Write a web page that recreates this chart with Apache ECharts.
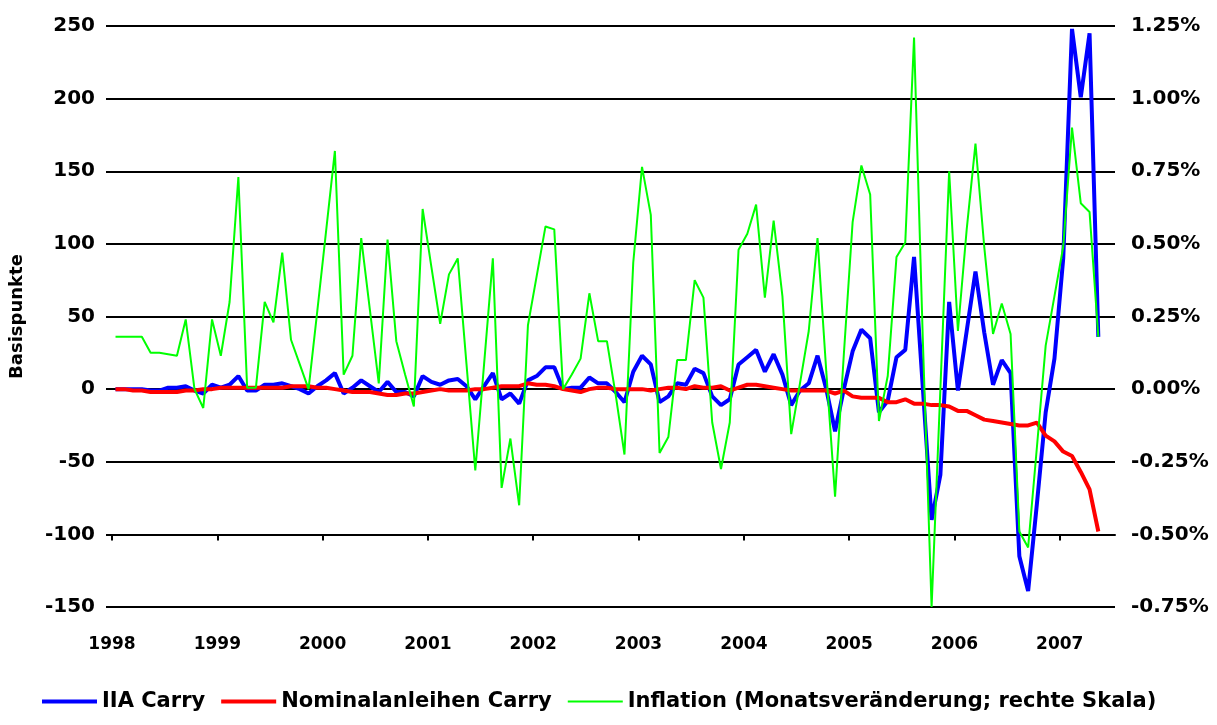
<!DOCTYPE html>
<html>
<head>
<meta charset="utf-8">
<title>IIA Carry</title>
<script src="https://cdn.jsdelivr.net/npm/echarts@6/dist/echarts.min.js"></script>
<style>
  html, body { margin: 0; padding: 0; background: #fff; }
  #chart { width: 1217px; height: 725px; }
</style>
</head>
<body>
<div id="chart"></div>
<script>
// monthly values, Jan 1998 .. May 2007
var firstYear = 1998;
var yearLabels = ['1998', '1999', '2000', '2001', '2002', '2003', '2004', '2005', '2006', '2007'];

// IIA Carry (Basispunkte)
var iiaCarry = [
    0, 0, 0, 0, -1, -1, 1, 1, 2, -1, -3, 3, 1, 3, 9, -1, -1, 3, 3,
    4, 2, 0, -3, 2, 6, 11, -3, 1, 6, 2, -2, 5, -2, -2, -5, 9, 5, 3, 6,
    7, 2, -7, 2, 11, -7, -3, -10, 6, 9, 15, 15, 0, 1, 1, 8, 4, 4, -2,
    -9, 12, 23, 17, -9, -5, 4, 3, 14, 11, -5, -11, -7, 17, 22, 27, 12, 24, 10,
    -11, -1, 4, 23, 0, -29, 0, 26, 41, 35, -16, -8, 22, 27, 91, 1, -90, -59, 60, -1,
    40, 81, 39, 3, 20, 11, -115, -139, -79, -16, 21, 90, 248, 201, 245, 36
];

// Nominalanleihen Carry (Basispunkte)
var nominalCarry = [
    0, 0, -1, -1, -2, -2, -2, -2, -1, -1, 0, 0, 1, 1, 1, 1, 1, 1, 1,
    1, 2, 2, 2, 1, 1, 0, -1, -2, -2, -2, -3, -4, -4, -3, -3, -2, -1,
    0, -1, -1, -1, 0, 0, 1, 2, 2, 2, 4, 3, 3, 2, 0, -1, -2, 0, 1, 1, 0,
    0, 0, 0, -1, 0, 1, 1, 0, 2, 1, 1, 2, -1, 1, 3, 3, 2, 1, 0,
    -1, -1, -1, -1, -1, -3, -1, -5, -6, -6, -6, -9, -9, -7, -10, -10, -11, -11, -12, -15,
    -15, -18, -21, -22, -23, -24, -25, -25, -23, -32, -36, -43, -46, -57, -69, -98
];

// Inflation, Monatsveraenderung in % (rechte Skala)
var inflation = [
    0.18, 0.18, 0.18, 0.18, 0.125, 0.125, 0.12, 0.115, 0.24, 0.0, -0.065, 0.24, 0.115, 0.3, 0.73, 0.005, 0.005, 0.3, 0.23,
    0.47, 0.17, 0.085, 0.0, 0.27, 0.545, 0.82, 0.05, 0.115, 0.52, 0.27, 0.02, 0.515, 0.165, 0.05, -0.06, 0.62, 0.42, 0.225, 0.395,
    0.45, 0.085, -0.28, 0.085, 0.45, -0.34, -0.17, -0.4, 0.22, 0.39, 0.56, 0.55, 0.0, 0.05, 0.105, 0.33, 0.165, 0.165, -0.02,
    -0.225, 0.435, 0.765, 0.6, -0.22, -0.165, 0.1, 0.1, 0.375, 0.315, -0.115, -0.275, -0.115, 0.48, 0.535, 0.635, 0.315, 0.58, 0.32,
    -0.155, 0.02, 0.2, 0.52, 0.06, -0.37, 0.12, 0.575, 0.77, 0.67, -0.11, 0.045, 0.455, 0.505, 1.21, 0.17, -0.75, 0.0, 0.75, 0.2,
    0.55, 0.845, 0.49, 0.19, 0.295, 0.19, -0.49, -0.545, -0.2, 0.15, 0.32, 0.49, 0.9, 0.64, 0.61, 0.18
];

var seriesNames = ['IIA Carry', 'Nominalanleihen Carry', 'Inflation (Monatsveränderung; rechte Skala)'];
var colors = ['#0000ff', '#ff0000', '#00ff00'];
var lineWidths = [4, 4, 2];

var font = "'DejaVu Sans', sans-serif";
var monthOffset = 0.4;      // data dated mid-month
var axisMonths = 114.3;     // x axis runs a little past the last point

// month index -> position on the date axis
function toPoints(list) {
    return list.map(function (v, i) {
        return [i + monthOffset, v];
    });
}

var yearTicks = yearLabels.map(function (y) {
    return (parseInt(y, 10) - firstYear) * 12;
});

// flat bar icons for the legend, as thick as the series line
var legendData = seriesNames.map(function (name, idx) {
    return {
        name: name,
        icon: 'path://M0,0H55V' + lineWidths[idx] + 'H0Z'
    };
});

var chart = echarts.init(document.getElementById('chart'), null, { renderer: 'canvas' });

var option = {
    animation: false,
    backgroundColor: '#fff',
    grid: {
        left: 112,
        top: 26,
        width: 1003,
        height: 581
    },
    xAxis: [
        {
            // year labels along the bottom
            type: 'value',
            min: 0,
            max: axisMonths,
            position: 'bottom',
            axisLine: { show: false, onZero: false },
            axisTick: { show: false },
            splitLine: { show: false },
            axisLabel: {
                customValues: yearTicks,
                formatter: function (v) {
                    return String(firstYear + Math.round(v / 12));
                },
                margin: 29,
                color: '#000',
                fontFamily: font,
                fontWeight: 'bold',
                fontSize: 17
            }
        },
        {
            // axis line + year ticks sitting on the -100 line
            type: 'value',
            min: 0,
            max: axisMonths,
            position: 'bottom',
            axisLine: {
                show: true,
                onZero: true,
                onZeroAxisIndex: 2,
                lineStyle: { color: '#000', width: 2 }
            },
            axisTick: {
                show: true,
                customValues: yearTicks,
                length: 6,
                lineStyle: { color: '#000', width: 2 }
            },
            axisLabel: { show: false },
            splitLine: { show: false }
        }
    ],
    yAxis: [
        {
            type: 'value',
            position: 'left',
            min: -150,
            max: 250,
            interval: 50,
            name: 'Basispunkte',
            nameLocation: 'middle',
            nameGap: 86,
            nameTextStyle: {
                color: '#000',
                fontFamily: font,
                fontWeight: 'bold',
                fontSize: 18
            },
            axisLine: { show: false },
            axisTick: { show: true, length: 6, lineStyle: { color: '#000', width: 2 } },
            axisLabel: {
                margin: 17,
                color: '#000',
                fontFamily: font,
                fontWeight: 'bold',
                fontSize: 20
            },
            splitLine: { show: true, lineStyle: { color: '#000', width: 2 } }
        },
        {
            type: 'value',
            position: 'right',
            min: -0.75,
            max: 1.25,
            interval: 0.25,
            axisLine: { show: false },
            axisTick: { show: false },
            splitLine: { show: false },
            axisLabel: {
                margin: 16,
                color: '#000',
                fontFamily: font,
                fontWeight: 'bold',
                fontSize: 20,
                formatter: function (v) {
                    return v.toFixed(2) + '%';
                }
            }
        },
        {
            // helper scale: its zero sits on the -100 line of the left axis
            type: 'value',
            show: false,
            min: -50,
            max: 350
        }
    ],
    legend: {
        left: 37,
        bottom: 8,
        itemWidth: 55,
        itemHeight: 14,
        itemGap: 16,
        symbolKeepAspect: true,
        itemStyle: { borderWidth: 0 },
        textStyle: {
            color: '#000',
            fontFamily: font,
            fontWeight: 'bold',
            fontSize: 21
        },
        data: legendData
    },
    series: [
        {
            name: seriesNames[0],
            type: 'line',
            xAxisIndex: 0,
            yAxisIndex: 0,
            symbol: 'none',
            lineStyle: { color: colors[0], width: lineWidths[0] },
            itemStyle: { color: colors[0] },
            data: toPoints(iiaCarry)
        },
        {
            name: seriesNames[1],
            type: 'line',
            xAxisIndex: 0,
            yAxisIndex: 0,
            symbol: 'none',
            lineStyle: { color: colors[1], width: lineWidths[1] },
            itemStyle: { color: colors[1] },
            data: toPoints(nominalCarry)
        },
        {
            name: seriesNames[2],
            type: 'line',
            xAxisIndex: 0,
            yAxisIndex: 1,
            symbol: 'none',
            lineStyle: { color: colors[2], width: lineWidths[2] },
            itemStyle: { color: colors[2] },
            data: toPoints(inflation)
        }
    ]
};

chart.setOption(option);
</script>
</body>
</html>
